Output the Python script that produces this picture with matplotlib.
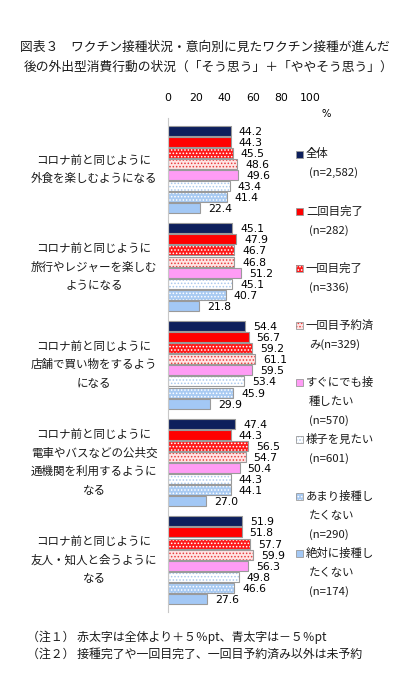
import matplotlib
matplotlib.use("Agg")
import matplotlib.pyplot as plt
from matplotlib.patches import Rectangle

plt.rcParams['font.family'] = ['Noto Sans CJK JP', 'DejaVu Sans']
plt.rcParams['hatch.linewidth'] = 0.7

categories = [
    "コロナ前と同じように\n外食を楽しむようになる",
    "コロナ前と同じように\n旅行やレジャーを楽しむ\nようになる",
    "コロナ前と同じように\n店舗で買い物をするよう\nになる",
    "コロナ前と同じように\n電車やバスなどの公共交\n通機関を利用するように\nなる",
    "コロナ前と同じように\n友人・知人と会うように\nなる",
]
series_labels = [
    "全体\n(n=2,582)",
    "二回目完了\n(n=282)",
    "一回目完了\n(n=336)",
    "一回目予約済\nみ(n=329)",
    "すぐにでも接\n種したい\n(n=570)",
    "様子を見たい\n(n=601)",
    "あまり接種し\nたくない\n(n=290)",
    "絶対に接種し\nたくない\n(n=174)",
]
zentai = [44.2, 45.1, 54.4, 47.4, 51.9]
nikai_kanryo = [44.3, 47.9, 56.7, 44.3, 51.8]
ikkai_kanryo = [45.5, 46.7, 59.2, 56.5, 57.7]
ikkai_yoyaku = [48.6, 46.8, 61.1, 54.7, 59.9]
sugu = [49.6, 51.2, 59.5, 50.4, 56.3]
yousu = [43.4, 45.1, 53.4, 44.3, 49.8]
amari = [41.4, 40.7, 45.9, 44.1, 46.6]
zettai = [22.4, 21.8, 29.9, 27.0, 27.6]
series_values = [zentai, nikai_kanryo, ikkai_kanryo, ikkai_yoyaku, sugu, yousu, amari, zettai]
xticks = [0, 20, 40, 60, 80, 100]

# styles: (facecolor, hatch, hatchcolor)
styles = [
    ("#0d1f5c", None, None),
    ("#ff0000", None, None),
    ("#ff1a1a", ".....", "#ffffff"),
    ("#ffe4e4", ".....", "#e83c3c"),
    ("#ff9cf5", None, None),
    ("#ffffff", ".....", "#a9c8ee"),
    ("#a8caf2", ".....", "#ffffff"),
    ("#a3c8f5", None, None),
]
edge = "#9a9a9a"

W, H = 405, 685
fig = plt.figure(figsize=(W / 100, H / 100), dpi=100)
ax_left, ax_right, ax_top, ax_bot = 168, 310, 118, 612
ax = fig.add_axes([ax_left / W, 1 - ax_bot / H, (ax_right - ax_left) / W, (ax_bot - ax_top) / H])

G = 8.8
bar_h = 0.9
num_font = ['Liberation Sans Narrow', 'DejaVu Sans']
for i, (vals, (fc, hatch, hc)) in enumerate(zip(series_values, styles)):
    ys = [g * G + i for g in range(len(vals))]
    if hatch:
        ax.barh(ys, vals, height=bar_h, color=fc, hatch=hatch, edgecolor=hc, linewidth=0)
        ax.barh(ys, vals, height=bar_h, fill=False, edgecolor=edge, linewidth=0.8)
    else:
        ax.barh(ys, vals, height=bar_h, color=fc, edgecolor=edge, linewidth=0.8)
    for y, v in zip(ys, vals):
        ax.annotate(f"{v:.1f}", xy=(v, y), xytext=(8, -1), textcoords='offset pixels',
                    ha='left', va='center', fontsize=7.8, family=num_font, color='#000000')

ax.set_xlim(0, 100)
top_units = 1.13
ax.set_ylim((4 * G + 7) + 1.17, -top_units)
ax.set_xticks(xticks)
ax.set_xticklabels([str(t) for t in xticks], family=num_font, fontsize=7.8)
ax.xaxis.tick_top()
ax.tick_params(axis='x', length=0, pad=11)
ax.set_yticks([])
for s in ['top', 'right', 'bottom']:
    ax.spines[s].set_visible(False)
ax.spines['left'].set_color('#c8c8c8')
ax.spines['left'].set_linewidth(0.8)

fig.text(326 / W, 1 - 114 / H, "%", ha='center', va='center', fontsize=7.2, family=num_font)

# category labels
line_sp = 18.7
for g, cat in enumerate(categories):
    lines = cat.split("\n")
    n = len(lines)
    yc = g * G + 3.5
    for j, ln in enumerate(lines):
        off = ((n - 1) / 2 - j) * line_sp
        ax.annotate(ln, xy=(0, yc), xytext=(-74, off), textcoords='offset pixels',
                    ha='center', va='center', fontsize=8.3, color='#1a1a1a',
                    annotation_clip=False)

# legend
leg_top = 154
leg_step = 57.1
for i, (lab, (fc, hatch, hc)) in enumerate(zip(series_labels, styles)):
    yt = leg_top + i * leg_step
    sq = 7
    if hatch:
        r = Rectangle((296 / W, 1 - (yt + sq / 2) / H), sq / W, sq / H, transform=fig.transFigure,
                      facecolor=fc, hatch=hatch, edgecolor=hc, linewidth=0)
        fig.add_artist(r)
        r2 = Rectangle((296 / W, 1 - (yt + sq / 2) / H), sq / W, sq / H, transform=fig.transFigure,
                       fill=False, edgecolor=edge, linewidth=0.6)
        fig.add_artist(r2)
    else:
        r = Rectangle((296 / W, 1 - (yt + sq / 2) / H), sq / W, sq / H, transform=fig.transFigure,
                      facecolor=fc, edgecolor=edge, linewidth=0.6)
        fig.add_artist(r)
    for j, ln in enumerate(lab.split("\n")):
        xx = 306 if j == 0 else 309
        fig.text(xx / W, 1 - (yt + j * 19) / H, ln, ha='left', va='center', fontsize=8.2,
                 color='#1a1a1a')

# title
fig.text(20 / W, 1 - 47 / H, "図表３　ワクチン接種状況・意向別に見たワクチン接種が進んだ",
         ha='left', va='center', fontsize=9.2, color='#1a1a1a')
fig.text(24 / W, 1 - 67 / H, "後の外出型消費行動の状況（「そう思う」＋「ややそう思う」）",
         ha='left', va='center', fontsize=9.2, color='#1a1a1a')

# notes
fig.text(27 / W, 1 - 637 / H, "（注１） 赤太字は全体より＋５％pt、青太字は－５％pt",
         ha='left', va='center', fontsize=8.6, color='#1a1a1a')
fig.text(27 / W, 1 - 654 / H, "（注２） 接種完了や一回目完了、一回目予約済み以外は未予約",
         ha='left', va='center', fontsize=8.6, color='#1a1a1a')

fig.savefig("out.png", dpi=100, facecolor='white')
